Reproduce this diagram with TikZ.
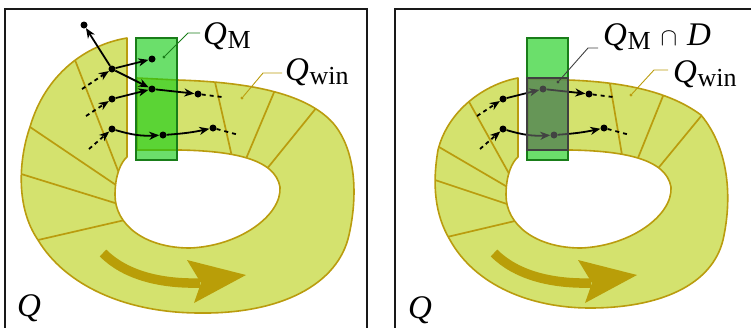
\documentclass[tikz,border=0pt]{standalone}
\usepackage{fontspec}
\setmainfont{Liberation Serif}
\usetikzlibrary{arrows.meta,calc}
\definecolor{bandfill}{RGB}{212,226,110}
\definecolor{bandline}{RGB}{186,156,14}
\definecolor{arrowgold}{RGB}{185,158,8}
\definecolor{rectgreen}{RGB}{21,205,21}
\definecolor{rectedge}{RGB}{25,125,25}
\definecolor{grayov}{RGB}{110,110,110}
\definecolor{grayedge}{RGB}{64,64,64}
\definecolor{framecol}{RGB}{25,25,25}
\newcommand{\qsub}[1]{{\itshape Q}\kern0.5pt\raisebox{-4pt}{\fontsize{26}{26}\selectfont #1}}
\tikzset{
  dot/.style={circle, fill=black, inner sep=0pt, minimum size=7pt},
  traj/.style={line width=1.8pt, -{Stealth[length=10pt,width=8pt,inset=3pt]}},
  incoming/.style={traj, dash pattern=on 4pt off 3.5pt},
  tailline/.style={line width=1.8pt, dash pattern=on 4pt off 4pt},
  bandshape/.style={fill=bandfill},
  bandborder/.style={draw=bandline, line width=1.6pt, line join=round},
  division/.style={draw=bandline, line width=1.7pt},
  qmrect/.style={fill=rectgreen, fill opacity=0.63, draw=rectedge, line width=1.5pt},
  grayrect/.style={fill=grayov, fill opacity=0.6, draw=grayedge, line width=1.5pt},
  frame/.style={draw=framecol, line width=2pt},
  bigarrow/.style={draw=arrowgold, line width=9.5pt},
  leaderdot/.style={circle, inner sep=0pt, minimum size=3.2pt},
  lbl/.style={font=\fontsize{33}{33}\selectfont, inner sep=0pt, anchor=base west},
}
\newcommand{\bandL}{(127,38) .. controls (85,45) and (45,75) .. (30,127)
  .. controls (20,155) and (14,205) .. (38,240)
  .. controls (65,285) and (125,313) .. (200,313)
  .. controls (280,314) and (338,285) .. (349,235)
  .. controls (358,195) and (356,150) .. (333,123)
  .. controls (305,92) and (245,82) .. (177,80) -- (137,78)
  -- (137,150) -- (180,150)
  .. controls (230,151) and (275,158) .. (280,187)
  .. controls (282,215) and (240,246) .. (190,248)
  .. controls (145,248) and (115,225) .. (115,195)
  .. controls (115,175) and (121,162) .. (127,157) -- cycle}
\newcommand{\bandR}{(518,78) .. controls (485,84) and (448,110) .. (438,150)
  .. controls (432,185) and (435,215) .. (450,240)
  .. controls (475,285) and (530,308) .. (590,308)
  .. controls (660,308) and (712,285) .. (723,240)
  .. controls (732,200) and (730,150) .. (701,115)
  .. controls (670,92) and (625,82) .. (568,80) -- (528,79)
  -- (528,150) -- (571,150)
  .. controls (621,151) and (666,158) .. (671,187)
  .. controls (673,215) and (631,246) .. (581,248)
  .. controls (536,248) and (506,225) .. (506,195)
  .. controls (506,175) and (512,162) .. (518,157) -- cycle}
\newcommand{\divline}[2]{\draw[division] ($#1!-6pt!#2$) -- ($#2!-6pt!#1$);}
\begin{document}
\begin{tikzpicture}[x=1pt, y=-1pt]
\clip (0,0) rectangle (751,327);
% ---------------- left panel ----------------
\draw[frame] (5,345) -- (5,9) -- (367,9) -- (367,345);
\path[bandshape] \bandL;
\begin{scope}
  \clip \bandL;
  \divline{(75,60)}{(117,168)}
  \divline{(30,127)}{(113,183)}
  \divline{(18,173)}{(115,203)}
  \divline{(38,240)}{(125,220)}
  \divline{(215,82)}{(230,148)}
  \divline{(275,90)}{(248,154)}
  \divline{(317,107)}{(270,165)}
\end{scope}
\path[bandborder] \bandL;
\draw[bigarrow] (103,253) .. controls (125,275) and (160,284) .. (200,283);
\fill[arrowgold] (246,275) -- (187,260) -- (201,283) -- (194,303) -- cycle;
\path[qmrect] (136,38) rectangle (177,160);
\node[dot] (A) at (84,25) {};
\node[dot] (B) at (112,69) {};
\node[dot] (C) at (152,59) {};
\node[dot] (D) at (152,89) {};
\node[dot] (E) at (198,94) {};
\node[dot] (F) at (112,99) {};
\node[dot] (G) at (112,129) {};
\node[dot] (H) at (163,135) {};
\node[dot] (I) at (213,128) {};
\coordinate (tB) at (82,89);
\coordinate (tF) at (86,116);
\coordinate (tG) at (89,149);
\coordinate (eE) at (222,97);
\coordinate (eI) at (239,135);
\draw[traj] (B) -- (A);
\draw[traj] (B) -- (C);
\draw[traj] (B) -- (D);
\draw[traj] (F) -- (D);
\draw[traj] (D) -- (E);
\draw[traj] (G) to[bend right=10] (H);
\draw[traj] (H) to[bend right=4] (I);
\draw[incoming] (tB) -- (B);
\draw[incoming] (tF) -- (F);
\draw[incoming] (tG) -- (G);
\draw[tailline] (E) -- (eE);
\draw[tailline] (I) -- (eI);
% labels left
\node[leaderdot, fill=rectedge] (qmdotL) at (164,57) {};
\coordinate (qmkL) at (188,33);
\coordinate (qmeL) at (200,33);
\draw[rectedge, line width=0.9pt] (qmdotL) -- (qmkL) -- (qmeL);
\node[lbl] (qmL) at (203,44) {\qsub{M}};
\node[leaderdot, fill=bandline] (qwdotL) at (242,98) {};
\coordinate (qwkL) at (263,73);
\coordinate (qweL) at (282,73);
\draw[bandline, line width=0.9pt] (qwdotL) -- (qwkL) -- (qweL);
\node[lbl] (qwL) at (285,80) {\qsub{win}};
\node[lbl] (qL) at (17,316) {\itshape Q};
% ---------------- right panel ----------------
\draw[frame] (395,345) -- (395,9) -- (760,9);
\path[bandshape] \bandR;
\begin{scope}
  \clip \bandR;
  \divline{(468,100)}{(507,170)}
  \divline{(439,147)}{(504,185)}
  \divline{(435,180)}{(507,204)}
  \divline{(447,237)}{(515,221)}
  \divline{(610,84)}{(621,149)}
  \divline{(663,96)}{(640,153)}
  \divline{(702,115)}{(660,166)}
\end{scope}
\path[bandborder] \bandR;
\draw[bigarrow] (494,253) .. controls (516,275) and (551,284) .. (591,283);
\fill[arrowgold] (637,275) -- (578,260) -- (592,283) -- (585,303) -- cycle;
\path[qmrect] (527,38) rectangle (568,160);
\node[dot] (F2) at (503,99) {};
\node[dot] (D2) at (543,89) {};
\node[dot] (E2) at (589,94) {};
\node[dot] (G2) at (503,129) {};
\node[dot] (H2) at (554,135) {};
\node[dot] (I2) at (604,128) {};
\coordinate (tF2) at (477,116);
\coordinate (tG2) at (480,149);
\coordinate (eE2) at (613,97);
\coordinate (eI2) at (630,135);
\draw[traj] (F2) -- (D2);
\draw[traj] (D2) -- (E2);
\draw[traj] (G2) to[bend right=10] (H2);
\draw[traj] (H2) to[bend right=4] (I2);
\draw[incoming] (tF2) -- (F2);
\draw[incoming] (tG2) -- (G2);
\draw[tailline] (E2) -- (eE2);
\draw[tailline] (I2) -- (eI2);
\path[grayrect] (527,78) rectangle (568,150);
\node[leaderdot, fill=grayedge] (qmdotR) at (558,82) {};
\coordinate (qmkR) at (588,48);
\coordinate (qmeR) at (598,48);
\draw[grayedge, line width=0.9pt] (qmdotR) -- (qmkR) -- (qmeR);
\node[lbl] (qmR) at (603,45) {\qsub{M}\hspace{10pt}{\fontsize{29}{29}\selectfont$\cap$}\hspace{10pt}\textit{D}};
\node[leaderdot, fill=bandline] (qwdotR) at (631,95) {};
\coordinate (qwkR) at (654,70);
\coordinate (qweR) at (668,70);
\draw[bandline, line width=0.9pt] (qwdotR) -- (qwkR) -- (qweR);
\node[lbl] (qwR) at (673,82) {\qsub{win}};
\node[lbl] (qR) at (408,318) {\itshape Q};
\end{tikzpicture}
\end{document}
